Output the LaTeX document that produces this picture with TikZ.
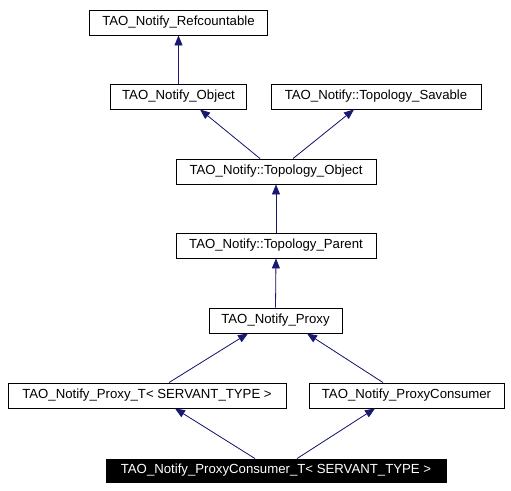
\documentclass[tikz,border=0pt]{standalone}
\usepackage{fontspec}
\setmainfont{Liberation Sans}
\usetikzlibrary{arrows.meta}
\begin{document}
\begin{tikzpicture}[x=1pt,y=-1pt,
    classBox/.style={rectangle,draw=black,fill=white,line width=0.9pt,minimum height=25pt,inner sep=0pt,font=\fontsize{13.2}{15}\selectfont},
    classBoxHi/.style={classBox,fill=black,text=white},
    classArrow/.style={{Triangle[length=10pt,width=8pt]}-,draw=midnightblue,fill=midnightblue,line width=0.8pt},
]
\definecolor{midnightblue}{RGB}{25,25,112}
\useasboundingbox (0,0) rectangle (511,490);
\node[classBox,minimum width=178pt] (clsRef) at (178.5,22.5) {TAO\_Notify\_Refcountable};
\node[classBox,minimum width=136pt] (clsObj) at (178.5,96.5) {TAO\_Notify\_Object};
\node[classBox,minimum width=210pt] (clsSav) at (376,96.5) {TAO\_Notify::Topology\_Savable};
\node[classBox,minimum width=200pt] (clsTopoObj) at (276,171.5) {TAO\_Notify::Topology\_Object};
\node[classBox,minimum width=200pt] (clsTopoPar) at (276,245.5) {TAO\_Notify::Topology\_Parent};
\node[classBox,minimum width=133pt] (clsProxy) at (275.5,320.5) {TAO\_Notify\_Proxy};
\node[classBox,minimum width=278pt] (clsProxyT) at (147,395.5) {TAO\_Notify\_Proxy\_T< SERVANT\_TYPE >};
\node[classBox,minimum width=195pt] (clsCons) at (406.5,395.5) {TAO\_Notify\_ProxyConsumer};
\node[classBoxHi,minimum width=340pt,minimum height=23pt] (clsConsT) at (276,470.5) {TAO\_Notify\_ProxyConsumer\_T< SERVANT\_TYPE >};
\draw[classArrow] (clsRef.south) -- (clsObj.north);
\draw[classArrow] ([xshift=21.5pt]clsObj.south) -- ([xshift=-16pt]clsTopoObj.north);
\draw[classArrow] ([xshift=-22pt]clsSav.south) -- ([xshift=17pt]clsTopoObj.north);
\draw[classArrow] (clsTopoObj.south) -- (clsTopoPar.north);
\draw[classArrow] (clsTopoPar.south) -- (clsProxy.north);
\draw[classArrow] ([xshift=-27.5pt]clsProxy.south) -- ([xshift=22pt]clsProxyT.north);
\draw[classArrow] ([xshift=31.5pt]clsProxy.south) -- ([xshift=-23.5pt]clsCons.north);
\draw[classArrow] ([xshift=28pt]clsProxyT.south) -- ([xshift=-21pt]clsConsT.north);
\draw[classArrow] ([xshift=-31.5pt]clsCons.south) -- ([xshift=21pt]clsConsT.north);
\end{tikzpicture}
\end{document}
